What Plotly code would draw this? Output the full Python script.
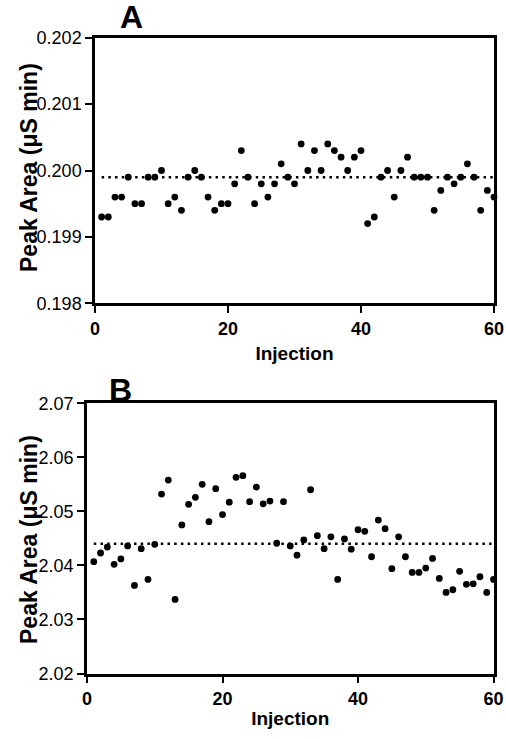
import plotly.graph_objects as go

# ---- data ----
injection = list(range(1, 61))

peak_area_A = [
    0.1993, 0.1993, 0.1996, 0.1996, 0.1999, 0.1995, 0.1995, 0.1999, 0.1999, 0.2000,
    0.1995, 0.1996, 0.1994, 0.1999, 0.2000, 0.1999, 0.1996, 0.1994, 0.1995, 0.1995,
    0.1998, 0.2003, 0.1999, 0.1995, 0.1998, 0.1996, 0.1998, 0.2001, 0.1999, 0.1998,
    0.2004, 0.2000, 0.2003, 0.2000, 0.2004, 0.2003, 0.2002, 0.2000, 0.2002, 0.2003,
    0.1992, 0.1993, 0.1999, 0.2000, 0.1996, 0.2000, 0.2002, 0.1999, 0.1999, 0.1999,
    0.1994, 0.1997, 0.1999, 0.1998, 0.1999, 0.2001, 0.1999, 0.1994, 0.1997, 0.1996,
]

peak_area_B = [
    2.0407, 2.0423, 2.0434, 2.0402, 2.0412, 2.0436, 2.0363, 2.0431, 2.0374, 2.0439,
    2.0532, 2.0558, 2.0337, 2.0475, 2.0513, 2.0526, 2.0550, 2.0481, 2.0542, 2.0494,
    2.0517, 2.0563, 2.0566, 2.0518, 2.0545, 2.0514, 2.0519, 2.0441, 2.0518, 2.0436,
    2.0419, 2.0447, 2.0540, 2.0455, 2.0431, 2.0453, 2.0374, 2.0449, 2.0430, 2.0466,
    2.0463, 2.0416, 2.0484, 2.0468, 2.0394, 2.0453, 2.0416, 2.0387, 2.0387, 2.0395,
    2.0413, 2.0376, 2.0350, 2.0355, 2.0389, 2.0365, 2.0366, 2.0379, 2.0350, 2.0374,
]

mean_A = 0.1999
mean_B = 2.0440
mean_x = [1, 60]

x_ticks = [0, 20, 40, 60]
y_ticks_A = [0.198, 0.199, 0.200, 0.201, 0.202]
y_ticks_B = [2.02, 2.03, 2.04, 2.05, 2.06, 2.07]

# ---- figure ----
W, H = 506, 739
fig = go.Figure()

marker = dict(color="black", size=6.8, line=dict(width=0))
dotline = dict(color="black", width=2.5, dash="2.5px,4.2px")

fig.add_trace(go.Scatter(x=injection, y=peak_area_A, mode="markers", marker=marker,
                         xaxis="x", yaxis="y", cliponaxis=False, showlegend=False))
fig.add_trace(go.Scatter(x=mean_x, y=[mean_A, mean_A], mode="lines", line=dotline,
                         xaxis="x", yaxis="y", showlegend=False))
fig.add_trace(go.Scatter(x=injection, y=peak_area_B, mode="markers", marker=marker,
                         xaxis="x2", yaxis="y2", cliponaxis=False, showlegend=False))
fig.add_trace(go.Scatter(x=mean_x, y=[mean_B, mean_B], mode="lines", line=dotline,
                         xaxis="x2", yaxis="y2", showlegend=False))

def fx(p):
    return p / W

def fy(p):
    return (H - p) / H

axis_common = dict(
    showline=True, linecolor="black", linewidth=2.5, mirror=True,
    ticks="outside", ticklen=7, tickwidth=2, tickcolor="black",
    showgrid=False, zeroline=False, automargin=False,
)
FAM = "Liberation Sans, Arial"
xfont = dict(family=FAM, size=18, color="black", weight="bold")
yfont = dict(family=FAM, size=18, color="black")
title_font = dict(family=FAM, size=19, color="black", weight="bold")
ytitle_font = dict(family=FAM, size=23, color="black", weight="bold")
panel_font = dict(family=FAM, size=32, color="black", weight="bold")

fig.update_layout(
    width=W, height=H, autosize=False,
    margin=dict(l=0, r=0, t=0, b=0, pad=0, autoexpand=False),
    paper_bgcolor="white", plot_bgcolor="white",
    xaxis=dict(domain=[fx(95), fx(494)], range=[0, 60], tickvals=x_ticks,
               tickfont=xfont, anchor="y",
               title=dict(text="Injection", font=title_font, standoff=10), **axis_common),
    yaxis=dict(domain=[fy(303.3), fy(37.7)], range=[0.198, 0.202], tickvals=y_ticks_A,
               tickformat=".3f", tickfont=yfont, anchor="x", **axis_common),
    xaxis2=dict(domain=[fx(87), fx(493.5)], range=[0, 60], tickvals=x_ticks,
                tickfont=xfont, anchor="y2",
                title=dict(text="Injection", font=title_font, standoff=4), **axis_common),
    yaxis2=dict(domain=[fy(673.5), fy(403.3)], range=[2.02, 2.07], tickvals=y_ticks_B,
                tickformat=".2f", tickfont=yfont, anchor="x2", **axis_common),
    annotations=[
        dict(text="Peak Area (μS min)", x=fx(29), y=fy(168), xref="paper", yref="paper",
             textangle=-90, showarrow=False, font=ytitle_font,
             xanchor="center", yanchor="middle"),
        dict(text="Peak Area (μS min)", x=fx(29), y=fy(540), xref="paper", yref="paper",
             textangle=-90, showarrow=False, font=ytitle_font,
             xanchor="center", yanchor="middle"),
        dict(text="A", x=fx(131), y=fy(17), xref="paper", yref="paper",
             showarrow=False, font=panel_font, xanchor="center", yanchor="middle"),
        dict(text="B", x=fx(120), y=fy(390), xref="paper", yref="paper",
             showarrow=False, font=panel_font, xanchor="center", yanchor="middle"),
    ],
)

# remove the default 8px page margin so the figure fills the window exactly
fig.write_html(
    "out.html",
    config={"displayModeBar": False},
    post_script="document.body.style.margin='0';document.body.style.overflow='hidden';",
)
